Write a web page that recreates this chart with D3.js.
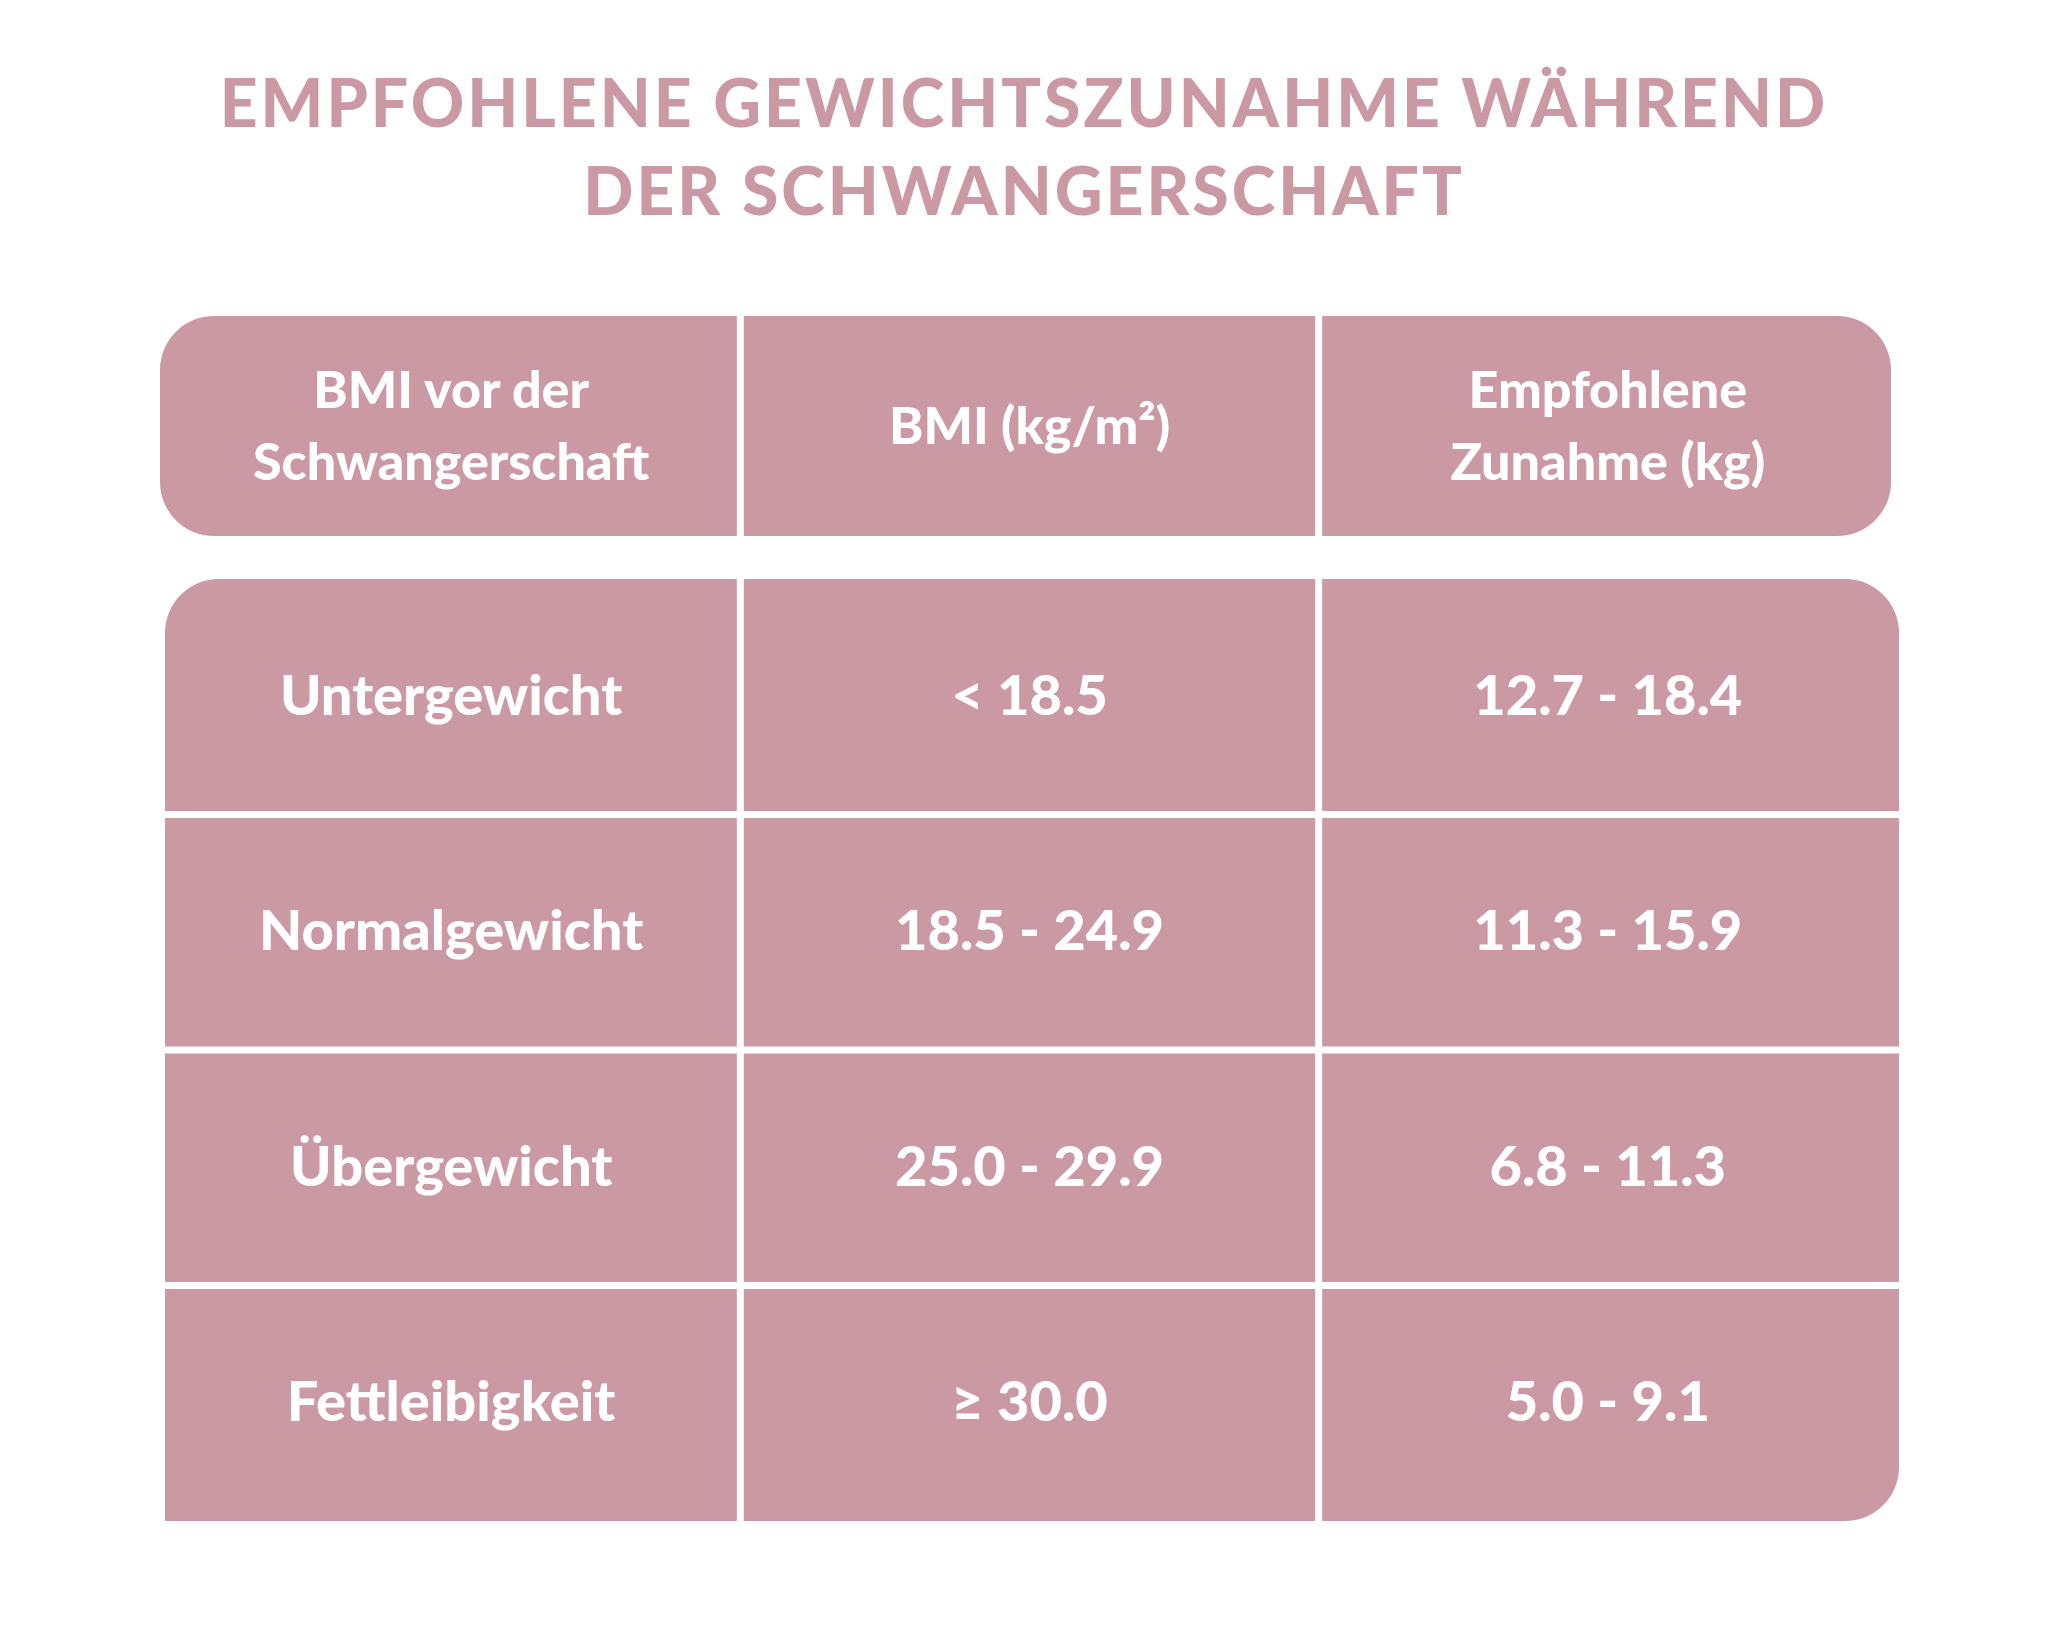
<!DOCTYPE html>
<html><head><meta charset="utf-8">
<script src="https://cdn.jsdelivr.net/npm/d3@7"></script>
<style>body{margin:0;background:#fff}text{font-family:"Lato","Open Sans",sans-serif;font-weight:900}</style>
</head><body><div id="canvas"></div>
<script>
const titleLines = ["EMPFOHLENE GEWICHTSZUNAHME WÄHREND", "DER SCHWANGERSCHAFT"];
const columns = [["BMI vor der", "Schwangerschaft"], ["BMI (kg/m²)"], ["Empfohlene", "Zunahme (kg)"]];
const categories = ["Untergewicht", "Normalgewicht", "Übergewicht", "Fettleibigkeit"];
const bmiRanges = ["< 18.5", "18.5 - 24.9", "25.0 - 29.9", "≥ 30.0"];
const gainRanges = ["12.7 - 18.4", "11.3 - 15.9", "6.8 - 11.3", "5.0 - 9.1"];

const W = 2048, H = 1648, pink = "#cb99a4";
const svg = d3.select("#canvas").append("svg").attr("width", W).attr("height", H);

// title
svg.selectAll("text.title").data(titleLines).enter().append("text")
  .attr("class", "title").attr("x", 1024).attr("y", (d, i) => 127 + i * 88)
  .attr("text-anchor", "middle").attr("fill", pink)
  .attr("font-size", 66).attr("letter-spacing", 3).text(d => d);

const x = d3.scaleBand().domain(d3.range(3)).range([162, 1897]);
const y = d3.scaleBand().domain(d3.range(4)).range([579, 1521]);

// header block
svg.append("rect").attr("x", 160).attr("y", 316).attr("width", 1731).attr("height", 220)
  .attr("rx", 54).attr("fill", pink);
// body block
svg.append("rect").attr("x", 165).attr("y", y.range()[0]).attr("width", 1734)
  .attr("height", y.range()[1] - y.range()[0]).attr("rx", 54).attr("fill", pink);
// square off inner corners like the original
svg.append("rect").attr("x", 165).attr("y", 1400).attr("width", 60).attr("height", 121).attr("fill", pink);

// column separators
[1, 2].forEach(i => {
  svg.append("line").attr("x1", x(i)).attr("x2", x(i)).attr("y1", 300).attr("y2", 1540)
    .attr("stroke", "#fff").attr("stroke-width", 7);
});
svg.append("rect").attr("x", 0).attr("y", 536).attr("width", W).attr("height", 43).attr("fill", "#fff");
// row separators
[1, 2, 3].forEach(i => {
  svg.append("line").attr("x1", 160).attr("x2", 1905).attr("y1", y(i)).attr("y2", y(i))
    .attr("stroke", "#fff").attr("stroke-width", 7);
});

// header texts
columns.forEach((lines, c) => {
  const cx = x(c) + x.bandwidth() / 2;
  const t = svg.append("text").attr("text-anchor", "middle").attr("fill", "#fff").attr("font-size", 52);
  lines.forEach((l, j) => {
    t.append("tspan").attr("x", cx)
      .attr("y", 426 + (j - (lines.length - 1) / 2) * 72 + 18).text(l);
  });
});

// body cells
const rows = categories.map((c, i) => [c, bmiRanges[i], gainRanges[i]]);
rows.forEach((r, i) => {
  r.forEach((v, c) => {
    svg.append("text").attr("x", x(c) + x.bandwidth() / 2).attr("y", y(i) + y.bandwidth() / 2 + 18)
      .attr("text-anchor", "middle").attr("fill", "#fff").attr("font-size", 56).text(v);
  });
});
</script></body></html>
